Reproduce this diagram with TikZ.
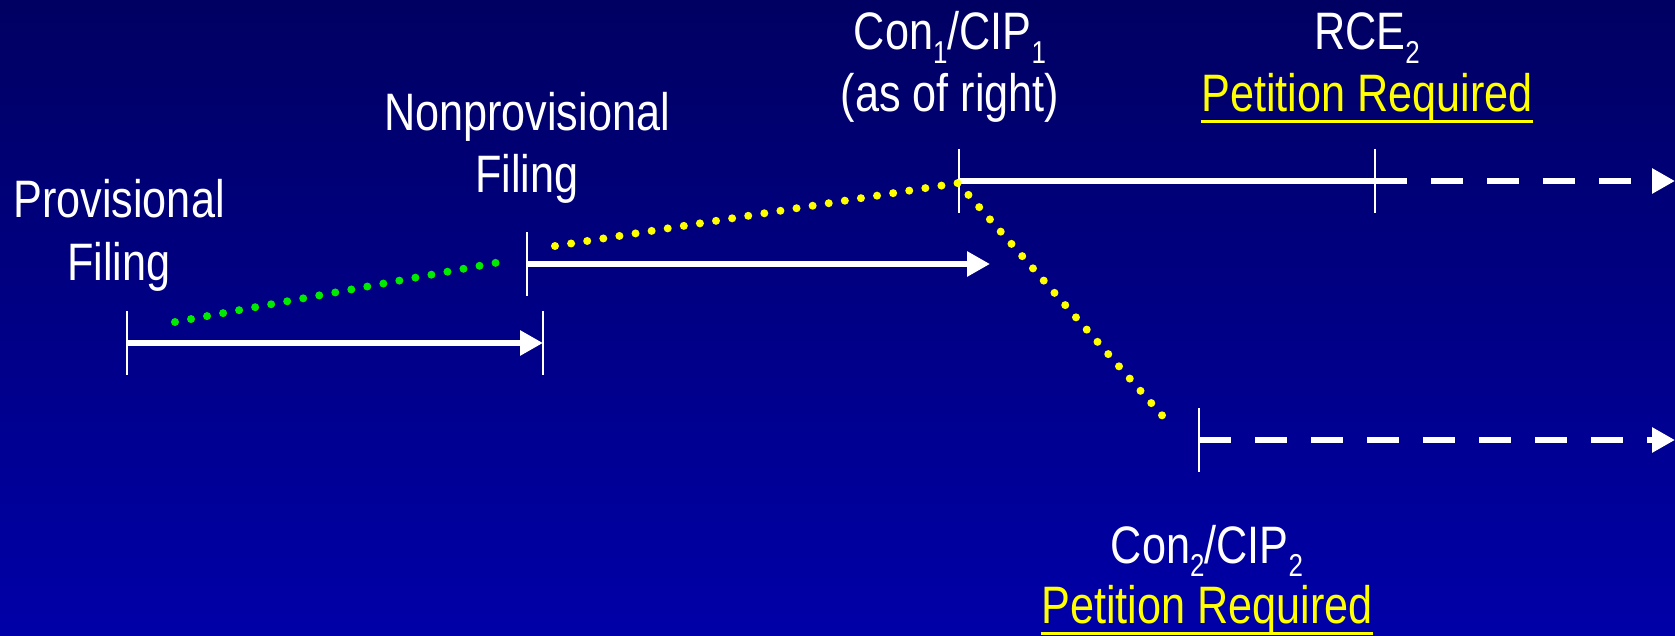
\documentclass[tikz,border=0pt]{standalone}
\usepackage{fontspec}
\setmainfont{Liberation Sans}[FakeStretch=0.82]
\usetikzlibrary{arrows.meta}
\definecolor{bgtop}{RGB}{0,0,98}
\definecolor{bgbot}{RGB}{0,0,168}
\definecolor{dotgreen}{RGB}{0,235,0}
\definecolor{dotyellow}{RGB}{255,255,0}
\newcommand{\lowidx}[1]{\raisebox{-0.25em}{\fontsize{18}{20}\selectfont #1}}

\begin{document}
\begin{tikzpicture}[x=0.02cm,y=-0.02cm,
 lbl/.style={text=white,inner sep=0pt,anchor=base,font=\fontsize{30}{36}\selectfont},
 pet/.style={lbl,text=dotyellow},
 uline/.style={dotyellow,line width=0.06cm},
 bar/.style={white,line width=0.134cm},
 barhead/.style={bar,-{Triangle[length=0.46cm,width=0.48cm]}},
 dashbar/.style={barhead,dash pattern=on 0.64cm off 0.48cm},
 tick/.style={white,line width=0.04cm},
 dots/.style={line width=0.16cm,line cap=round,dash pattern=on 0pt off 0.326cm}]
 \useasboundingbox (0,0) rectangle (1675,635);
 \shade[top color=bgtop,bottom color=bgbot] (0,0) rectangle (1675,635); %背景

 \coordinate (provS) at (127,343); %仮出願
 \coordinate (provE) at (543,343);
 \coordinate (nonS) at (527,264); %本出願
 \coordinate (nonE) at (990,264);
 \coordinate (conS) at (959,181); %Con1
 \coordinate (rce) at (1375,181); %RCE2
 \coordinate (upE) at (1675,181);
 \coordinate (conTwoS) at (1199,440); %Con2
 \coordinate (lowE) at (1675,440);
 \coordinate (gA) at (175,322); %緑の点線
 \coordinate (gB) at (511,260);
 \coordinate (yA) at (555,246); %黄の点線
 \coordinate (yB) at (958,183);
 \coordinate (yC) at (1167,421);

 \draw[barhead] (provS)--(provE);
 \draw[barhead] (nonS)--(nonE);
 \draw[bar] (conS)--(rce);
 \draw[dashbar] (rce)--(upE);
 \draw[dashbar] (conTwoS)--(lowE);
 \foreach \t in {provS,provE,nonS,conS,rce,conTwoS}
  \draw[tick] (\t) ++(0,-32)--++(0,64); %目盛り

 \draw[dots,dotgreen] (gA)--(gB);
 \draw[dots,dotyellow] (yA)--(yB)--(yC);

 \node[lbl] (provOne) at (119,217) {Provisional};
 \node[lbl] (provTwo) at (119,280) {Filing};
 \node[lbl] (nonOne) at (527,131) {Nonprovisional};
 \node[lbl] (nonTwo) at (527,192) {Filing};
 \node[lbl] (conOne) at (950,50) {Con\lowidx{1}/CIP\lowidx{1}};
 \node[lbl] (conTwo) at (950,112) {(as of right)};
 \node[lbl] (rceOne) at (1367,50) {RCE\lowidx{2}};
 \node[pet] (rceTwo) at (1367,112) {Petition Required};
 \node[lbl] (cipOne) at (1207,563) {Con\lowidx{2}/CIP\lowidx{2}};
 \node[pet] (cipTwo) at (1207,623) {Petition Required};
 \draw[uline] ([yshift=-0.2cm]rceTwo.base west)--([yshift=-0.2cm]rceTwo.base east); %下線
 \draw[uline] ([yshift=-0.2cm]cipTwo.base west)--([yshift=-0.2cm]cipTwo.base east);
\end{tikzpicture}
\end{document}
